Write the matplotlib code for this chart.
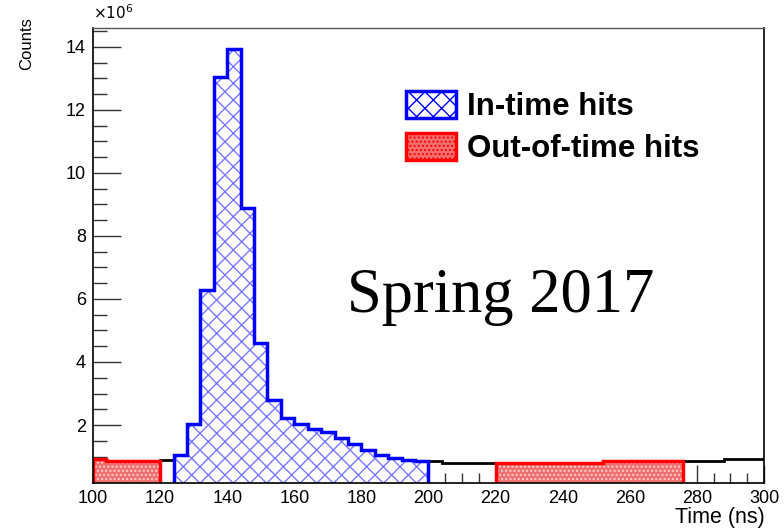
import numpy as np
import matplotlib
matplotlib.use("Agg")
import matplotlib.pyplot as plt
from matplotlib.ticker import MultipleLocator, FuncFormatter
from matplotlib.patches import Patch

# 4 ns bins from 100 to 300 ns, counts in millions
edges = np.arange(100, 301, 4)
all_hits = np.array([
    0.91, 0.85, 0.85, 0.85, 0.85,                    # 100-120
    0.89,                                            # 120-124
    1.05, 2.03, 6.29, 13.04, 13.94, 8.88, 4.59, 2.78, 2.22, 2.03,
    1.86, 1.77, 1.58, 1.40, 1.21, 1.05, 0.94, 0.89, 0.85,   # 124-200
    0.87, 0.80, 0.80, 0.80, 0.80,                    # 200-220
    0.80, 0.80, 0.80, 0.80, 0.80, 0.80, 0.80, 0.80,  # 220-252
    0.87, 0.87, 0.87, 0.87, 0.87, 0.87,              # 252-276
    0.86, 0.86, 0.86, 0.91, 0.91, 0.91,              # 276-300
]) * 1e6

in_time_window = (124, 200)
out_of_time_windows = [(100, 120), (220, 276)]

plt.rcParams["font.family"] = ["Liberation Sans", "DejaVu Sans"]
plt.rcParams["hatch.linewidth"] = 1.0

fig = plt.figure(figsize=(7.84, 5.31), dpi=100)
ax = fig.add_axes([0.1186, 0.0904, 0.8559, 0.8569])


def window_slice(lo, hi):
    i0 = int(np.searchsorted(edges, lo))
    i1 = int(np.searchsorted(edges, hi))
    return edges[i0:i1 + 1], all_hits[i0:i1]


# total histogram, black outline
ax.stairs(all_hits, edges, color="black", lw=2, baseline=None, zorder=2)

# out-of-time hits: red dotted fill
for lo, hi in out_of_time_windows:
    e, v = window_slice(lo, hi)
    ax.stairs(v, e, fill=True, facecolor="#f07070", edgecolor="#ffd0d0",
              hatch="....", lw=0, zorder=3)
    ax.stairs(v, e, color="red", lw=2.5, baseline=0, zorder=4)

# in-time hits: blue cross hatch
e, v = window_slice(*in_time_window)
ax.stairs(v, e, fill=True, facecolor="white", edgecolor="#7878ff",
          hatch="xx", lw=0, zorder=3)
ax.stairs(v, e, color="blue", lw=2.5, baseline=0, zorder=4)

ax.set_xlim(100, 300)
ax.set_ylim(0.16e6, 14.6e6)

ax.xaxis.set_major_locator(MultipleLocator(20))
ax.xaxis.set_minor_locator(MultipleLocator(5))
ax.yaxis.set_major_locator(MultipleLocator(2e6))
ax.yaxis.set_minor_locator(MultipleLocator(0.5e6))
ax.yaxis.set_major_formatter(FuncFormatter(lambda y, p: f"{y / 1e6:g}"))

ax.tick_params(axis="both", which="both", direction="in", top=False,
               right=False, labelsize=13, color="#333333")
ax.tick_params(axis="x", which="major", length=13, width=1, pad=5)
ax.tick_params(axis="x", which="minor", length=7, width=1)
ax.tick_params(axis="y", which="major", length=20, width=1, pad=5)
ax.tick_params(axis="y", which="minor", length=10, width=1)

for side in ["left", "bottom", "right"]:
    ax.spines[side].set_linewidth(1.2)
    ax.spines[side].set_color("black")
ax.spines["top"].set_color("#555555")
ax.spines["top"].set_linewidth(1.0)
for sp in ax.spines.values():
    sp.set_zorder(5)

fig.text(0.119, 0.958, r"$\times10^{6}$", ha="left", va="bottom", fontsize=11)
fig.text(0.975, 0.005, "Time (ns)", ha="right", va="bottom", fontsize=15.5)
fig.text(0.034, 0.968, "Counts", ha="center", va="top", rotation=90, fontsize=12)

handles = [
    Patch(facecolor="white", edgecolor="blue", hatch="xx", lw=2.5, label="In-time hits"),
    Patch(facecolor="#f07070", edgecolor="red", hatch="....", lw=2.5, label="Out-of-time hits"),
]
ax.legend(handles=handles, loc="upper left", bbox_to_anchor=(0.466, 0.862),
          frameon=False, prop={"weight": "bold", "size": 22.5},
          handlelength=1.6, handleheight=0.95, handletextpad=0.35,
          labelspacing=0.35, borderpad=0, borderaxespad=0)

ax.text(0.607, 0.376, "Spring 2017", transform=ax.transAxes, ha="center",
        va="baseline", fontsize=45, family=["Liberation Serif", "DejaVu Serif"])

fig.savefig("out.png", dpi=100)
